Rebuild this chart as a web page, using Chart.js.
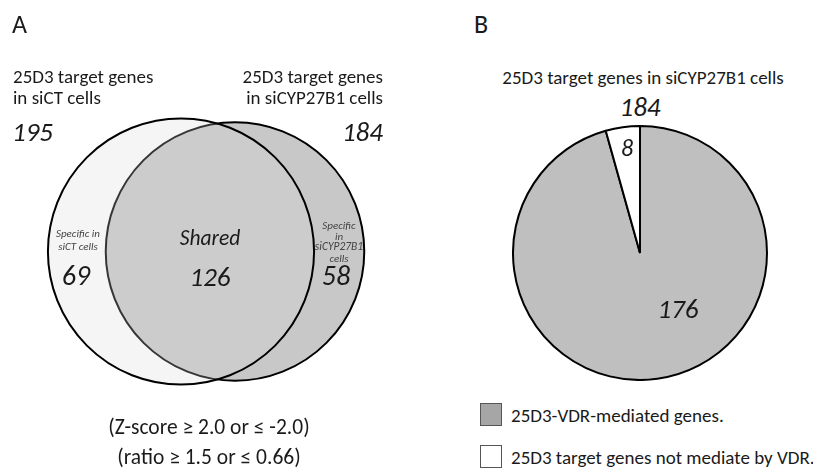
<!DOCTYPE html>
<html>
<head>
<meta charset="utf-8">
<script src="https://cdn.jsdelivr.net/npm/chart.js@4.4.0/dist/chart.umd.min.js"></script>
<style>
  html, body { margin: 0; padding: 0; background: #fff; }
  #wrap { position: relative; width: 813px; height: 471px; overflow: hidden; font-family: Carlito, Lato, sans-serif; color: #1a1a1a; }
  canvas { position: absolute; }
  .t { position: absolute; white-space: nowrap; line-height: 1; }
  .box { position: absolute; width: 22px; height: 23px; border: 1px solid #555; box-sizing: border-box; }
</style>
</head>
<body>
<div id="wrap">
  <canvas id="venn" width="420" height="471" style="left:0;top:0;"></canvas>
  <canvas id="pie" width="256" height="256" style="left:512px;top:125px;"></canvas>
</div>
<script>
// ---- Data ----
const vennSets = ['siCT', 'siCYP27B1'];
const vennTotals = [195, 184];
const vennSpecific = [69, 58];
const vennShared = 126;

const pieCategories = ['25D3-VDR-mediated genes.', '25D3 target genes not mediate by VDR.'];
const pieValues = [176, 8];
const pieTotal = 184;

// ---- Styles / layout ----
const vennCenterPx = [181, 235];
const vennCenterY = 251.5;
const radiusPerSqrt = 9.53;
const vennFill = ['rgba(215,215,215,0.25)', '#c8c8c8'];
const pieColors = ['#bfbfbf', '#ffffff'];
const legendColors = ['#a6a6a6', '#ffffff'];

// Venn via scatter chart
const unit = vennCenterPx[1] - vennCenterPx[0];
const xMin = -vennCenterPx[0] / unit;
const xMax = xMin + 420 / unit;
const yRange = 471 / 100;
const yMax = vennCenterY / 100;
const yMin = yMax - yRange;

new Chart(document.getElementById('venn'), {
  type: 'scatter',
  data: {
    datasets: vennSets.map((s, i) => ({
      label: s,
      data: [{ x: i, y: 0 }],
      pointRadius: radiusPerSqrt * Math.sqrt(vennTotals[i]),
      pointHoverRadius: radiusPerSqrt * Math.sqrt(vennTotals[i]),
      pointBackgroundColor: vennFill[i],
      pointBorderColor: '#000',
      pointBorderWidth: 2,
      pointHoverBorderWidth: 2,
      clip: false
    }))
  },
  options: {
    responsive: false, animation: false, events: [],
    layout: { padding: 0, autoPadding: false },
    plugins: { legend: { display: false }, tooltip: { enabled: false } },
    scales: {
      x: { type: 'linear', display: false, min: xMin, max: xMax },
      y: { type: 'linear', display: false, min: yMin, max: yMax }
    }
  }
});

new Chart(document.getElementById('pie'), {
  type: 'pie',
  data: {
    labels: pieCategories,
    datasets: [{
      data: pieValues,
      backgroundColor: pieColors,
      borderColor: '#000',
      borderWidth: 2,
      hoverOffset: 0
    }]
  },
  options: {
    responsive: false, animation: false, events: [],
    layout: { padding: 0 },
    plugins: { legend: { display: false }, tooltip: { enabled: false } }
  }
});

// ---- Text ----
const wrap = document.getElementById('wrap');
function label(text, x, y, size, opts = {}) {
  const d = document.createElement('div');
  d.className = 't';
  d.textContent = text;
  d.style.fontSize = size + 'px';
  if (opts.italic) d.style.fontStyle = 'italic';
  if (opts.color) d.style.color = opts.color;
  const align = opts.align || 'center';
  const tx = align === 'center' ? '-50%' : (align === 'right' ? '-100%' : '0');
  d.style.left = x + 'px';
  d.style.top = y + 'px';
  d.style.transform = `translate(${tx}, -50%)`;
  wrap.appendChild(d);
  return d;
}

label('A', 12, 24, 26, { align: 'left' });
label('B', 474, 24, 26, { align: 'left' });

label('25D3 target genes', 13, 76, 19, { align: 'left' });
label('in siCT cells', 13, 97, 19, { align: 'left' });
label('25D3 target genes', 383, 76, 19, { align: 'right' });
label('in siCYP27B1 cells', 383, 97, 19, { align: 'right' });

label(String(vennTotals[0]), 12, 131, 27, { align: 'left', italic: true });
label(String(vennTotals[1]), 383, 131, 27, { align: 'right', italic: true });

label('Specific in', 78, 233, 11, { italic: true, color: '#444' });
label('siCT cells', 78, 246, 11, { italic: true, color: '#444' });
label(String(vennSpecific[0]), 76, 276, 28, { italic: true });

label('Shared', 210, 239, 21.5, { italic: true });
label(String(vennShared), 210, 276, 27, { italic: true });

label('Specific', 339, 225, 11, { italic: true, color: '#444' });
label('in', 339, 236, 11, { italic: true, color: '#444' });
label('siCYP27B1', 339, 247, 11.5, { italic: true, color: '#444' });
label('cells', 339, 258, 11, { italic: true, color: '#444' });
label(String(vennSpecific[1]), 336, 276, 28, { italic: true });

label('(Z-score \u2265 2.0 or \u2264 -2.0)', 209, 428, 21.5);
label('(ratio \u2265 1.5 or \u2264 0.66)', 209, 458, 21.5);

label('25D3 target genes in siCYP27B1 cells', 643, 77, 19);
label(String(pieTotal), 640, 106, 27, { italic: true });
label(String(pieValues[1]), 627, 148, 24, { italic: true });
label(String(pieValues[0]), 678, 308, 27, { italic: true });

// Legend
const legendY = [415, 457];
pieCategories.forEach((c, i) => {
  const b = document.createElement('div');
  b.className = 'box';
  b.style.left = '480px';
  b.style.top = (legendY[i] - 12) + 'px';
  b.style.background = legendColors[i];
  wrap.appendChild(b);
  label(c, 511, legendY[i], 19, { align: 'left' });
});
</script>
</body>
</html>
